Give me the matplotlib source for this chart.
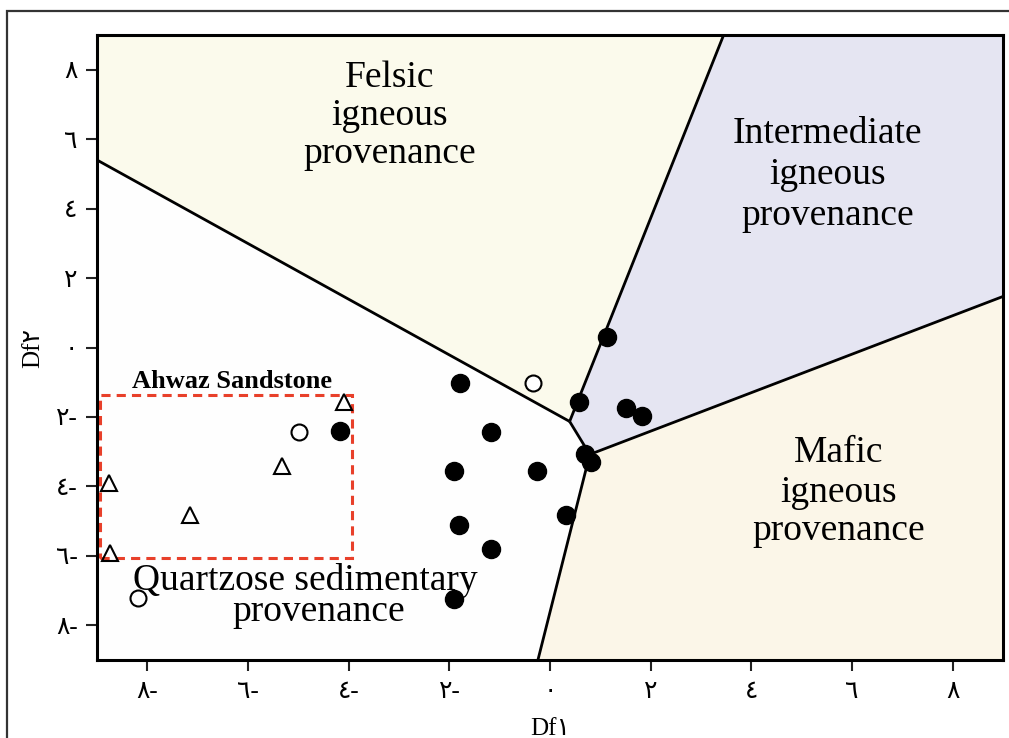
import matplotlib
matplotlib.use('Agg')
import matplotlib.pyplot as plt
from matplotlib.patches import Polygon, Rectangle

# discriminant function scores
filled_x = [1.13, -1.79, 0.57, 1.51, 1.82, -1.18, -4.18, 0.69, 0.82, -1.91, -0.26, 0.32, -1.80, -1.18, -1.91]
filled_y = [0.29, -1.01, -1.58, -1.75, -1.96, -2.42, -2.40, -3.07, -3.31, -3.57, -3.57, -4.82, -5.12, -5.80, -7.24]
open_x = [-0.34, -4.99, -8.18]
open_y = [-1.03, -2.42, -7.20]
tri_x = [-4.10, -5.32, -8.77, -7.15, -8.75]
tri_y = [-1.56, -3.40, -3.91, -4.82, -5.93]

# field boundaries (Df1, Df2)
junc_a = (0.39, -2.13)
junc_b = (0.79, -3.08)
left_end = (-9, 5.40)
top_end = (3.45, 9)
right_end = (9, 1.47)
bottom_end = (-0.24, -9)

ticks = [-8, -6, -4, -2, 0, 2, 4, 6, 8]
digits = '٠١٢٣٤٥٦٧٨٩'
tick_labels = [''.join(digits[int(c)] for c in str(abs(t))) + ('-' if t < 0 else '') for t in ticks]

serif = ['Liberation Serif', 'DejaVu Sans']

fig = plt.figure(figsize=(10.09, 7.38), dpi=100)
fig.patch.set_facecolor('white')
ax = fig.add_axes([97 / 1009, 78 / 738, 906 / 1009, 625 / 738])

# outer frame of the figure (cut at right/bottom)
fig.add_artist(Rectangle((7 / 1009, -0.05), 1.1, (738 - 11) / 738 + 0.05, transform=fig.transFigure,
                         fill=False, ec='#333333', lw=1.6, clip_on=False))

felsic = [left_end, (-9, 9), top_end, junc_a]
inter = [junc_a, top_end, (9, 9), right_end, junc_b]
mafic = [junc_b, right_end, (9, -9), bottom_end]
quartz = [left_end, junc_a, junc_b, bottom_end, (-9, -9)]
for poly, col in [(felsic, '#fbfaec'), (inter, '#e5e5f2'), (mafic, '#fbf6e8'), (quartz, '#fefefe')]:
    ax.add_patch(Polygon(poly, closed=True, fc=col, ec='none', zorder=0))

for p, q in [(left_end, junc_a), (junc_a, top_end), (junc_a, junc_b), (junc_b, right_end), (junc_b, bottom_end)]:
    ax.plot([p[0], q[0]], [p[1], q[1]], color='black', lw=2, zorder=2, solid_capstyle='butt')

ax.add_patch(Rectangle((-8.95, -6.07), 5.01, 4.71, fill=False, ec='#e8402a', lw=2.2,
                       ls=(0, (3, 2)), zorder=3))

ax.plot(filled_x, filled_y, 'o', color='black', ms=13, zorder=4)
ax.plot(open_x, open_y, 'o', mfc='white', mec='black', mew=1.5, ms=11.5, zorder=4)
ax.plot(tri_x, tri_y, '^', mfc='none', mec='black', mew=1.5, ms=12, zorder=4)

ax.text(-6.32, -1.18, 'Ahwaz Sandstone', family=serif, fontsize=19, fontweight='bold',
        ha='center', va='baseline', zorder=5)

fs = 27
labels = [
    (-3.19, ['Felsic', 'igneous', 'provenance'], [7.49, 6.40, 5.30]),
    (5.51, ['Intermediate', 'igneous', 'provenance'], [5.88, 4.70, 3.54]),
    (5.74, ['Mafic', 'igneous', 'provenance'], [-3.29, -4.44, -5.53]),
]
for x, lines, ys in labels:
    for s, y in zip(lines, ys):
        ax.text(x, y, s, family=serif, fontsize=fs, ha='center', va='baseline', zorder=5)
ax.text(-4.87, -6.97, 'Quartzose sedimentary', family=serif, fontsize=fs, ha='center', va='baseline', zorder=5)
ax.text(-4.59, -7.88, 'provenance', family=serif, fontsize=fs, ha='center', va='baseline', zorder=5)

ax.set_xlim(-9, 9)
ax.set_ylim(-9, 9)
ax.set_xticks(ticks)
ax.set_yticks(ticks)
ax.set_xticklabels(tick_labels, family=serif, fontsize=18)
ax.set_yticklabels(tick_labels, family=serif, fontsize=18)
ax.tick_params(axis='both', direction='out', length=8, width=1.5, color='#222222')
ax.tick_params(axis='x', pad=7)
ax.tick_params(axis='y', pad=6)
for sp in ax.spines.values():
    sp.set_linewidth(2.2)
    sp.set_zorder(6)

ax.set_xlabel('Df١', family=serif, fontsize=18)
ax.xaxis.set_label_coords(0.5, -0.093)
ax.xaxis.label.set_va('top')
ax.set_ylabel('Df٢', family=serif, fontsize=18)
ax.yaxis.set_label_coords(-0.0706, 0.5)
ax.yaxis.label.set_va('center')

fig.savefig('out.png', dpi=100)
